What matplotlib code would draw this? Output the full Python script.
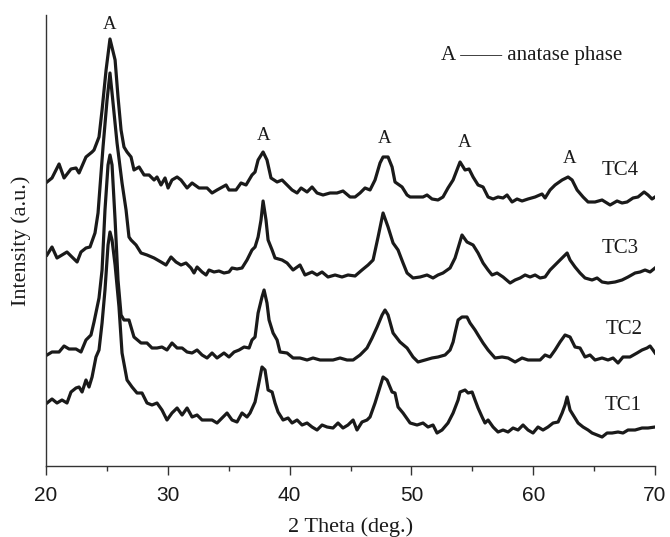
import numpy as np
import matplotlib
matplotlib.use('Agg')
import matplotlib.pyplot as plt

# XRD patterns (2 theta in deg., intensity in a.u. with vertical offsets as plotted)
tc4_2theta = [20.08, 20.49, 21.07, 21.48, 22.05, 22.46, 22.71, 23.28, 23.78, 23.94, 24.35, 24.6, 24.93, 25.25,
              25.67, 25.91, 26.16, 26.4, 26.65, 26.98, 27.22, 27.64, 28.05, 28.46, 28.87, 29.11, 29.44, 29.77,
              30.02, 30.34, 30.76, 31.08, 31.58, 31.99, 32.56, 33.22, 33.63, 34.04, 34.78, 35.02, 35.6, 36.01,
              36.42, 36.91, 37.16, 37.41, 37.82, 38.14, 38.47, 38.97, 39.38, 39.79, 40.2, 40.61, 40.94, 41.43,
              41.84, 42.25, 42.74, 43.32, 43.89, 44.38, 44.96, 45.37, 45.78, 46.19, 46.6, 47.01, 47.42, 47.67,
              48.08, 48.41, 48.65, 49.23, 49.64, 49.89, 50.46, 50.95, 51.28, 51.69, 52.18, 52.59, 53.0, 53.42,
              53.83, 53.99, 54.4, 54.73, 55.06, 55.47, 55.88, 56.29, 56.7, 57.11, 57.52, 57.85, 58.26, 58.67,
              59.08, 59.57, 60.15, 60.72, 60.97, 61.38, 61.79, 62.37, 62.86, 63.19, 63.6, 64.09, 64.5, 65.07,
              65.65, 66.31, 66.88, 67.29, 67.7, 68.19, 68.6, 69.1, 69.42, 69.75, 70.0]
tc4_int = [284, 288, 302, 288, 297, 298, 293, 309, 314, 316, 329, 356, 396, 427,
           406, 369, 336, 319, 314, 309, 296, 299, 291, 291, 286, 289, 281, 288,
           278, 286, 289, 286, 278, 283, 278, 278, 273, 276, 281, 276, 276, 283,
           281, 291, 294, 306, 314, 306, 288, 284, 286, 281, 276, 273, 278, 274,
           279, 273, 271, 273, 273, 275, 269, 269, 273, 278, 276, 286, 303, 309,
           309, 299, 284, 279, 271, 269, 269, 269, 271, 267, 266, 269, 278, 286,
           299, 304, 296, 297, 289, 281, 279, 269, 267, 269, 268, 271, 264, 267,
           265, 267, 269, 272, 268, 276, 281, 286, 289, 286, 276, 269, 264, 264,
           266, 261, 265, 263, 264, 268, 269, 274, 271, 267, 269]

tc3_2theta = [20.08, 20.49, 20.9, 21.31, 21.72, 22.13, 22.55, 22.87, 23.28, 23.61, 24.02, 24.27, 24.43, 24.68,
              25.01, 25.25, 25.42, 25.83, 26.24, 26.57, 26.81, 26.98, 27.39, 27.8, 28.29, 28.87, 29.44, 29.85,
              30.26, 30.67, 31.08, 31.49, 31.9, 32.15, 32.4, 32.81, 33.14, 33.38, 33.79, 34.2, 34.61, 35.02,
              35.27, 35.68, 36.09, 36.5, 36.91, 37.16, 37.41, 37.65, 37.82, 38.06, 38.23, 38.56, 38.8, 39.38,
              39.79, 40.28, 40.85, 41.26, 41.84, 42.25, 42.66, 43.15, 43.73, 44.3, 44.79, 45.37, 45.94, 46.44,
              46.85, 47.26, 47.67, 48.08, 48.49, 48.9, 49.31, 49.64, 50.13, 50.71, 51.28, 51.77, 52.18, 52.59,
              53.17, 53.58, 53.83, 54.15, 54.56, 55.06, 55.47, 55.88, 56.29, 56.62, 57.03, 57.52, 58.1, 58.51,
              58.92, 59.33, 59.74, 60.15, 60.56, 60.97, 61.38, 61.79, 62.2, 62.78, 63.02, 63.43, 63.84, 64.25,
              64.83, 65.24, 65.65, 66.14, 66.72, 67.29, 67.78, 68.36, 68.77, 69.18, 69.59, 70.0]
tc3_int = [211, 219, 208, 211, 214, 209, 204, 214, 218, 219, 233, 253, 279, 319,
           366, 393, 373, 323, 283, 256, 229, 226, 221, 213, 211, 208, 204, 201,
           209, 204, 201, 203, 198, 193, 199, 194, 191, 196, 194, 195, 193, 194,
           198, 197, 198, 206, 216, 219, 229, 246, 265, 246, 226, 216, 208, 206,
           203, 196, 201, 191, 194, 191, 194, 189, 191, 189, 191, 190, 196, 201,
           206, 229, 253, 239, 223, 216, 203, 193, 188, 189, 191, 188, 191, 193,
           198, 208, 218, 231, 224, 221, 213, 203, 196, 191, 193, 189, 183, 186,
           188, 191, 189, 191, 188, 189, 196, 201, 206, 213, 206, 199, 193, 188,
           186, 188, 184, 183, 184, 186, 189, 193, 194, 196, 194, 198]

tc2_2theta = [20.08, 20.49, 21.07, 21.48, 21.89, 22.46, 22.87, 23.28, 23.69, 23.94, 24.35, 24.6, 24.84, 25.09,
              25.25, 25.42, 25.67, 25.91, 26.16, 26.4, 26.81, 27.22, 27.8, 28.29, 28.7, 29.11, 29.52, 29.93,
              30.34, 30.76, 31.17, 31.58, 31.99, 32.4, 32.81, 33.22, 33.63, 34.04, 34.61, 35.02, 35.44, 35.85,
              36.26, 36.67, 36.91, 37.16, 37.41, 37.73, 37.9, 38.14, 38.31, 38.64, 38.97, 39.21, 39.79, 40.28,
              40.85, 41.43, 41.92, 42.5, 43.07, 43.56, 44.14, 44.71, 45.21, 45.78, 46.35, 46.77, 47.18, 47.59,
              47.83, 48.08, 48.49, 49.06, 49.64, 50.13, 50.54, 51.12, 51.69, 52.18, 52.76, 53.17, 53.42, 53.58,
              53.83, 54.15, 54.56, 54.81, 55.22, 55.47, 55.88, 56.29, 56.86, 57.44, 57.93, 58.51, 59.08, 59.57,
              60.15, 60.56, 60.97, 61.38, 61.79, 62.2, 62.61, 63.02, 63.43, 63.84, 64.25, 64.66, 65.07, 65.65,
              66.14, 66.55, 66.96, 67.37, 67.94, 68.52, 68.93, 69.34, 69.59, 69.83, 70.0]
tc2_int = [111, 114, 114, 120, 117, 117, 114, 126, 131, 144, 168, 196, 256, 301,
           311, 301, 246, 186, 151, 146, 146, 129, 123, 123, 118, 118, 119, 116,
           123, 118, 118, 114, 113, 116, 111, 108, 113, 108, 113, 109, 114, 116,
           119, 118, 126, 129, 153, 169, 176, 163, 146, 133, 126, 114, 113, 108,
           108, 106, 108, 106, 106, 106, 108, 106, 106, 111, 118, 128, 139, 151,
           156, 151, 133, 124, 118, 109, 104, 106, 108, 109, 111, 116, 124, 133,
           146, 149, 149, 143, 136, 131, 123, 116, 108, 109, 108, 104, 108, 106,
           106, 106, 111, 109, 116, 124, 131, 129, 119, 118, 109, 111, 106, 108,
           106, 108, 103, 109, 109, 113, 116, 118, 120, 116, 113]

tc1_2theta = [20.08, 20.49, 20.9, 21.31, 21.72, 22.05, 22.46, 22.71, 22.96, 23.28, 23.53, 23.78, 24.1, 24.35,
              24.6, 24.84, 25.09, 25.25, 25.42, 25.67, 25.99, 26.24, 26.65, 27.06, 27.47, 27.88, 28.29, 28.7,
              29.11, 29.52, 29.93, 30.34, 30.76, 31.17, 31.58, 31.99, 32.4, 32.81, 33.22, 33.63, 34.04, 34.45,
              34.86, 35.27, 35.68, 36.09, 36.5, 36.75, 37.16, 37.41, 37.73, 37.98, 38.23, 38.56, 38.8, 39.05,
              39.46, 39.87, 40.2, 40.61, 41.02, 41.43, 41.84, 42.25, 42.66, 43.07, 43.56, 43.97, 44.38, 44.79,
              45.21, 45.53, 45.94, 46.35, 46.6, 47.01, 47.42, 47.67, 48.0, 48.41, 48.65, 48.9, 49.31, 49.89,
              50.46, 50.95, 51.36, 51.77, 52.1, 52.51, 53.0, 53.42, 53.83, 53.99, 54.4, 54.65, 54.98, 55.22,
              55.47, 55.8, 56.04, 56.29, 56.7, 57.11, 57.52, 57.93, 58.34, 58.75, 59.16, 59.57, 59.98, 60.39,
              60.8, 61.21, 61.63, 62.04, 62.37, 62.61, 62.78, 63.02, 63.27, 63.68, 64.09, 64.5, 64.83, 65.24,
              65.65, 66.06, 66.47, 66.96, 67.37, 67.78, 68.36, 68.93, 69.42, 70.0]
tc1_int = [63, 67, 63, 66, 63, 74, 78, 79, 74, 86, 79, 89, 109, 116,
           143, 176, 221, 234, 226, 201, 159, 113, 86, 79, 73, 73, 63, 61,
           63, 56, 46, 53, 58, 51, 58, 49, 51, 46, 46, 46, 43, 48,
           53, 46, 44, 53, 49, 53, 64, 79, 99, 96, 76, 74, 63, 54,
           46, 48, 43, 46, 41, 43, 39, 36, 41, 39, 38, 43, 38, 41,
           46, 36, 44, 46, 49, 63, 79, 89, 86, 74, 73, 59, 53, 43,
           41, 43, 39, 41, 33, 36, 43, 53, 66, 74, 76, 73, 74, 66,
           58, 49, 43, 46, 39, 34, 36, 34, 38, 36, 41, 36, 33, 39,
           36, 39, 43, 44, 53, 61, 69, 56, 51, 43, 39, 36, 33, 31,
           29, 33, 33, 34, 33, 36, 36, 38, 38, 39]

series = [("TC4", tc4_2theta, tc4_int), ("TC3", tc3_2theta, tc3_int),
          ("TC2", tc2_2theta, tc2_int), ("TC1", tc1_2theta, tc1_int)]

# label positions (2theta, baseline intensity)
sample_labels = {"TC4": (67.1, 291), "TC3": (67.1, 213), "TC2": (67.5, 132), "TC1": (67.4, 56)}
peak_labels = [(25.25, 437), (37.82, 326), (47.83, 323), (54.32, 319), (63.0, 303)]

serif = ['Liberation Serif', 'DejaVu Serif']
sans = ['Liberation Sans', 'DejaVu Sans']

fig = plt.figure(figsize=(6.7, 5.37), dpi=100)
ax = fig.add_axes([0.0687, 0.1322, 0.909, 0.8399])

for name, tt, inten in series:
    ax.plot(tt, inten, color='#1a1a1a', linewidth=2.3, solid_joinstyle='round')

for name, (x, y) in sample_labels.items():
    ax.text(x, y, name, ha='center', va='baseline', fontsize=15, family=serif, color='#1a1a1a')

for x, y in peak_labels:
    ax.text(x, y, 'A', ha='center', va='baseline', fontsize=13.5, family=serif, color='#1a1a1a')

ax.text(59.9, 406, 'A \u2014\u2014 anatase phase', ha='center', va='baseline', fontsize=15,
        family=serif, color='#1a1a1a')

ax.set_xlim(20, 70)
ax.set_ylim(0, 451)
ax.set_xticks(np.arange(20, 71, 10))
ax.set_xticks(np.arange(25, 70, 10), minor=True)
ax.tick_params(axis='x', which='major', length=6.5, width=1, color='#333333', pad=8, labelsize=15)
ax.tick_params(axis='x', which='minor', length=3.6, width=1, color='#333333')
ax.tick_params(axis='y', left=False, labelleft=False)
for lab in ax.get_xticklabels():
    lab.set_family(sans)
    lab.set_color('#1a1a1a')

for side in ['top', 'right']:
    ax.spines[side].set_visible(False)
for side in ['left', 'bottom']:
    ax.spines[side].set_color('#333333')
    ax.spines[side].set_linewidth(1)

ax.set_xlabel('2 Theta (deg.)', fontsize=16, family=serif, color='#1a1a1a', labelpad=9)
ax.set_ylabel('Intensity (a.u.)', fontsize=16, family=serif, color='#1a1a1a', labelpad=11)

fig.savefig('out.png', dpi=100)
